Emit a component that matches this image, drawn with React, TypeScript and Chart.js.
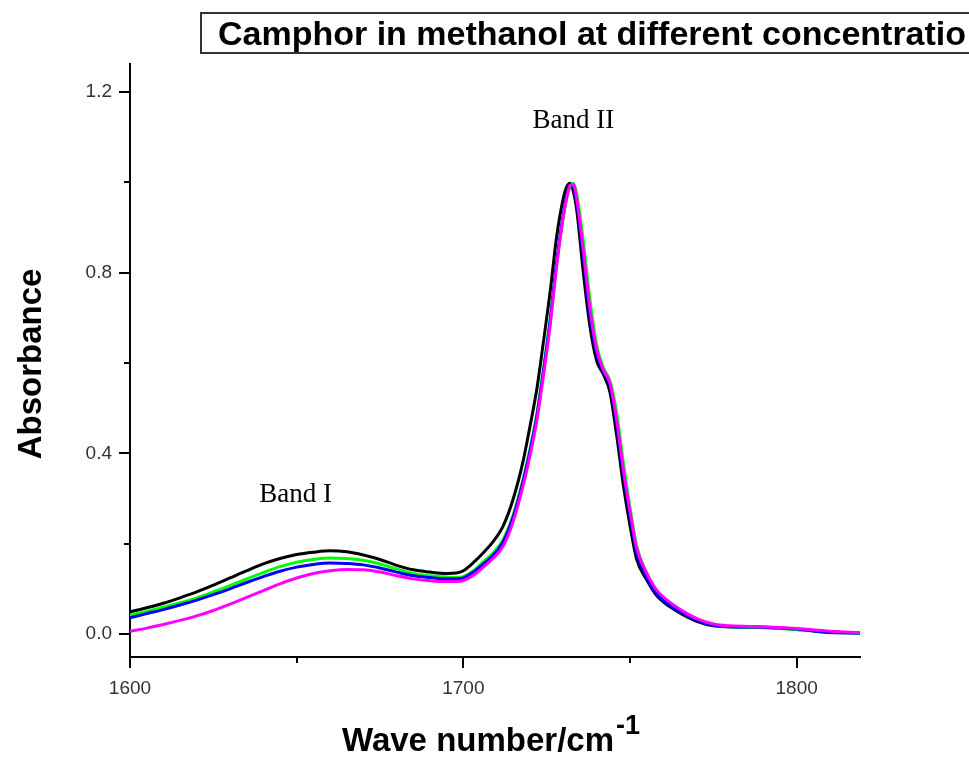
import { useEffect, useRef } from 'react';
import { Chart, registerables } from 'chart.js';

Chart.register(...registerables);

// ---- data ----
const WAVENUMBERS = [
  1600, 1605, 1610, 1615, 1620, 1625, 1630, 1635, 1640, 1645, 1650, 1655, 1660, 1665, 1670, 1675,
  1680, 1685, 1690, 1695, 1698, 1700, 1703, 1706, 1709, 1712, 1715, 1718, 1720, 1722, 1724, 1726,
  1728, 1730, 1731, 1732, 1733, 1734, 1736, 1738, 1740, 1742, 1744, 1746, 1748, 1750, 1752, 1755,
  1758, 1762, 1766, 1770, 1775, 1780, 1790, 1800, 1810, 1819,
];

const SERIES_BLACK = [
  0.049, 0.058, 0.068, 0.08, 0.093, 0.108, 0.124, 0.14, 0.155, 0.167, 0.176, 0.181, 0.184, 0.182, 0.175, 0.165,
  0.152, 0.142, 0.137, 0.134, 0.135, 0.14, 0.158, 0.18, 0.205, 0.24, 0.3, 0.385, 0.46, 0.54, 0.645, 0.755,
  0.88, 0.965, 0.99, 0.998, 0.98, 0.94, 0.8, 0.68, 0.605, 0.575, 0.535, 0.44, 0.33, 0.24, 0.165, 0.12,
  0.085, 0.06, 0.042, 0.028, 0.018, 0.016, 0.015, 0.01, 0.005, 0.002,
];

const SERIES_GREEN = [
  0.042, 0.05, 0.059, 0.069, 0.08, 0.093, 0.107, 0.122, 0.136, 0.149, 0.159, 0.165, 0.168, 0.167, 0.163, 0.155,
  0.144, 0.134, 0.129, 0.126, 0.125, 0.127, 0.14, 0.16, 0.18, 0.21, 0.265, 0.345, 0.41, 0.485, 0.585, 0.695,
  0.82, 0.925, 0.965, 0.99, 0.998, 0.975, 0.87, 0.74, 0.64, 0.59, 0.56, 0.49, 0.38, 0.28, 0.195, 0.135,
  0.095, 0.068, 0.048, 0.032, 0.02, 0.016, 0.014, 0.01, 0.004, 0.002,
];

const SERIES_BLUE = [
  0.036, 0.045, 0.054, 0.064, 0.075, 0.087, 0.1, 0.114, 0.127, 0.139, 0.148, 0.154, 0.157, 0.156, 0.153, 0.146,
  0.137, 0.129, 0.125, 0.122, 0.122, 0.124, 0.137, 0.155, 0.175, 0.205, 0.26, 0.34, 0.405, 0.48, 0.58, 0.69,
  0.825, 0.93, 0.97, 0.995, 0.99, 0.955, 0.835, 0.705, 0.62, 0.58, 0.55, 0.465, 0.355, 0.262, 0.18, 0.125,
  0.088, 0.063, 0.045, 0.03, 0.019, 0.016, 0.015, 0.011, 0.003, 0.002,
];

const SERIES_MAGENTA = [
  0.006, 0.013, 0.021, 0.03, 0.04, 0.052, 0.066, 0.081, 0.096, 0.111, 0.124, 0.134, 0.14, 0.143, 0.142, 0.137,
  0.129, 0.122, 0.118, 0.116, 0.116, 0.118, 0.13, 0.148, 0.168, 0.195, 0.25, 0.33, 0.395, 0.47, 0.57, 0.68,
  0.815, 0.925, 0.965, 0.993, 0.995, 0.965, 0.85, 0.72, 0.63, 0.585, 0.555, 0.475, 0.365, 0.272, 0.19, 0.135,
  0.097, 0.07, 0.05, 0.034, 0.022, 0.018, 0.016, 0.012, 0.006, 0.003,
];

// Chart.js paints the first dataset last, so magenta (first) ends up on top
const SERIES_NAMES = ['Concentration 4', 'Concentration 3', 'Concentration 2', 'Concentration 1'];
const SERIES_VALUES = [SERIES_MAGENTA, SERIES_BLUE, SERIES_GREEN, SERIES_BLACK];
const SERIES_COLORS = ['#ff00ff', '#0000ff', '#00ff00', '#000000'];

const X_MIN = 1600;
const X_MAX = 1819;
const Y_MIN = -0.051;
const Y_MAX = 1.262;
const X_MAJOR_TICKS = [1600, 1700, 1800];
const X_MINOR_TICKS = [1650, 1750];
const Y_MAJOR_TICKS = [0, 0.4, 0.8, 1.2];
const Y_MINOR_TICKS = [0.2, 0.6, 1.0];

const CHART_TITLE = 'Camphor in methanol at different concentratio';
const X_TITLE = 'Wave number/cm';
const X_TITLE_SUP = '-1';
const Y_TITLE = 'Absorbance';

const BAND_LABELS = ['Band I', 'Band II'];
const BAND_X = [1649.7, 1733];
const BAND_Y = [0.293, 1.12];

const SANS = '"Liberation Sans", Arial, sans-serif';
const SERIF = '"Liberation Serif", "Times New Roman", serif';

const decorPlugin = {
  id: 'decor',
  afterDraw(chart: any) {
    const { ctx, chartArea } = chart;
    const xs = chart.scales.x;
    const ys = chart.scales.y;
    ctx.save();
    // tick marks
    ctx.strokeStyle = '#000';
    ctx.lineWidth = 2;
    ctx.beginPath();
    const drawY = (v: number, len: number) => {
      const py = Math.round(ys.getPixelForValue(v));
      ctx.moveTo(chartArea.left, py);
      ctx.lineTo(chartArea.left - len, py);
    };
    const drawX = (v: number, len: number) => {
      const px = Math.round(xs.getPixelForValue(v));
      ctx.moveTo(px, chartArea.bottom);
      ctx.lineTo(px, chartArea.bottom + len);
    };
    Y_MAJOR_TICKS.forEach((v) => drawY(v, 11));
    Y_MINOR_TICKS.forEach((v) => drawY(v, 6));
    X_MAJOR_TICKS.forEach((v) => drawX(v, 11));
    X_MINOR_TICKS.forEach((v) => drawX(v, 6));
    ctx.stroke();

    // chart title in a box
    ctx.strokeStyle = '#333';
    ctx.lineWidth = 2;
    ctx.fillStyle = '#fff';
    ctx.fillRect(201, 13, 800, 40);
    ctx.strokeRect(201, 13, 800, 40);
    ctx.fillStyle = '#000';
    ctx.font = `bold 34px ${SANS}`;
    ctx.textAlign = 'left';
    ctx.textBaseline = 'alphabetic';
    ctx.fillText(CHART_TITLE, 218, 45);

    // x axis title with superscript
    ctx.font = `bold 33px ${SANS}`;
    const w1 = ctx.measureText(X_TITLE).width;
    ctx.font = `bold 27px ${SANS}`;
    const w2 = ctx.measureText(X_TITLE_SUP).width;
    const startX = 490 - (w1 + w2) / 2;
    ctx.font = `bold 33px ${SANS}`;
    ctx.fillText(X_TITLE, startX, 751);
    ctx.font = `bold 27px ${SANS}`;
    ctx.fillText(X_TITLE_SUP, startX + w1 + 2, 734);

    // y axis title
    ctx.save();
    ctx.translate(41, 364);
    ctx.rotate(-Math.PI / 2);
    ctx.font = `bold 33px ${SANS}`;
    ctx.textAlign = 'center';
    ctx.fillText(Y_TITLE, 0, 0);
    ctx.restore();

    // band annotations
    ctx.font = `27px ${SERIF}`;
    ctx.textAlign = 'center';
    BAND_LABELS.forEach((t, i) => {
      ctx.fillText(t, xs.getPixelForValue(BAND_X[i]), ys.getPixelForValue(BAND_Y[i]));
    });
    ctx.restore();
  },
};

export default function App() {
  const ref = useRef<HTMLCanvasElement | null>(null);

  useEffect(() => {
    if (!ref.current) return;
    const chart = new Chart(ref.current, {
      type: 'line',
      data: {
        datasets: SERIES_VALUES.map((vals, i) => ({
          label: SERIES_NAMES[i],
          data: WAVENUMBERS.map((x, j) => ({ x, y: vals[j] })),
          borderColor: SERIES_COLORS[i],
          backgroundColor: SERIES_COLORS[i],
          borderWidth: 3,
          pointRadius: 0,
          fill: false,
          cubicInterpolationMode: 'monotone' as const,
        })),
      },
      options: {
        responsive: false,
        animation: false,
        layout: { padding: { left: 0, top: 64, right: 109, bottom: 0 } },
        plugins: {
          legend: { display: false },
          tooltip: { enabled: false },
          title: { display: false },
        },
        scales: {
          x: {
            type: 'linear',
            min: X_MIN,
            max: X_MAX,
            grid: { display: false, drawTicks: false },
            border: { display: true, color: '#000', width: 2 },
            afterBuildTicks: (s: any) => {
              s.ticks = X_MAJOR_TICKS.map((v) => ({ value: v }));
            },
            afterFit: (s: any) => {
              s.height = 104;
            },
            ticks: {
              padding: 20,
              color: '#333',
              font: { family: SANS, size: 19 },
              maxRotation: 0,
              callback: (v: any) => String(v),
            },
          },
          y: {
            type: 'linear',
            min: Y_MIN,
            max: Y_MAX,
            grid: { display: false, drawTicks: false },
            border: { display: true, color: '#000', width: 2 },
            afterBuildTicks: (s: any) => {
              s.ticks = Y_MAJOR_TICKS.map((v) => ({ value: v }));
            },
            afterFit: (s: any) => {
              s.width = 130;
            },
            ticks: {
              padding: 18,
              color: '#333',
              font: { family: SANS, size: 19 },
              callback: (v: any) => Number(v).toFixed(1),
            },
          },
        },
      },
      plugins: [decorPlugin],
    });
    return () => chart.destroy();
  }, []);

  return (
    <div style={{ position: 'fixed', left: 0, top: 0, width: 969, height: 761, background: '#fff', overflow: 'hidden' }}>
      <canvas ref={ref} width={969} height={761} style={{ display: 'block', width: 969, height: 761 }} />
    </div>
  );
}
